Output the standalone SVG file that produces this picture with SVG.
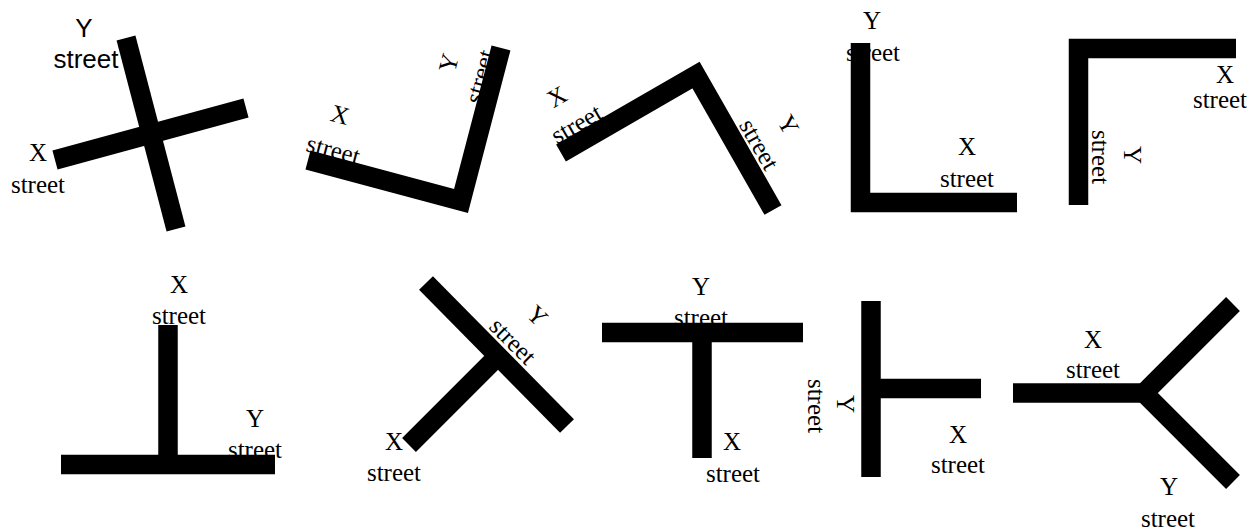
<svg xmlns="http://www.w3.org/2000/svg" width="1250" height="530" viewBox="0 0 1250 530">
<style>
.t{font-family:"Liberation Serif","Times New Roman",serif;font-size:25px;fill:#000;text-anchor:middle}
.a{font-family:"Liberation Sans",Arial,sans-serif;font-size:26px;fill:#000;text-anchor:middle}
.road{fill:none;stroke:#000;stroke-width:19.5;stroke-linecap:butt;stroke-linejoin:miter;stroke-miterlimit:10}
</style>
<rect width="1250" height="530" fill="#fff"/>
<g id="labels">
<text class="a" x="84" y="37">Y</text>
<text class="a" x="86" y="68">street</text>
<text class="t" x="38" y="161">X</text>
<text class="t" x="38" y="193">street</text>
<text class="t" transform="translate(340,115) rotate(15)" y="8">X</text>
<text class="t" transform="translate(333,151) rotate(15)" y="7">street</text>
<text class="t" transform="translate(449,63) rotate(-75)" y="8">Y</text>
<text class="t" transform="translate(481,77) rotate(-75)" y="7">street</text>
<text class="t" transform="translate(557,97) rotate(-30)" y="8">X</text>
<text class="t" transform="translate(577,125) rotate(-30)" y="7">street</text>
<text class="t" transform="translate(788,125) rotate(60)" y="8">Y</text>
<text class="t" transform="translate(758,145) rotate(60)" y="7">street</text>
<text class="t" x="872" y="29">Y</text>
<text class="t" x="873" y="61">street</text>
<text class="t" x="967" y="155">X</text>
<text class="t" x="967" y="187">street</text>
<text class="t" x="1225" y="83">X</text>
<text class="t" x="1220" y="108">street</text>
<text class="t" transform="translate(1132,155) rotate(90)" y="8">Y</text>
<text class="t" transform="translate(1099,157) rotate(90)" y="7">street</text>
<text class="t" x="179" y="293">X</text>
<text class="t" x="179" y="324">street</text>
<text class="t" x="255" y="427">Y</text>
<text class="t" x="255" y="458">street</text>
<text class="t" transform="translate(537,316) rotate(45)" y="8">Y</text>
<text class="t" transform="translate(512,342) rotate(45)" y="7">street</text>
<text class="t" x="394" y="450">X</text>
<text class="t" x="394" y="481">street</text>
<text class="t" x="701" y="295">Y</text>
<text class="t" x="701" y="326">street</text>
<text class="t" x="732" y="450">X</text>
<text class="t" x="733" y="482">street</text>
<text class="t" transform="translate(845,404) rotate(90)" y="8">Y</text>
<text class="t" transform="translate(815,406) rotate(90)" y="7">street</text>
<text class="t" x="958" y="443">X</text>
<text class="t" x="958" y="473">street</text>
<text class="t" x="1093" y="348">X</text>
<text class="t" x="1093" y="378">street</text>
<text class="t" x="1169" y="495">Y</text>
<text class="t" x="1168" y="527">street</text>
</g>
<g id="connectors">
<g id="cross"><path class="road" d="M126,38 L176,229"/><path class="road" d="M55,160 L246,108"/></g>
<g id="corner-tilted"><path class="road" d="M308,160 L461,201 L501,48"/></g>
<g id="corner-peak"><path class="road" d="M561,153 L696,75 L773,210"/></g>
<g id="corner-L"><path class="road" d="M860.5,43 V202.5 H1017"/></g>
<g id="corner-gamma"><path class="road" d="M1078.5,205 V48.5 H1236"/></g>
<g id="tee-up"><path class="road" d="M61,464.5 H275"/><path class="road" d="M168,325 V464.5"/></g>
<g id="tee-diagonal"><path class="road" d="M426,283 L567,426"/><path class="road" d="M409,445 L498,356"/></g>
<g id="tee-down"><path class="road" d="M602,332.5 H803"/><path class="road" d="M702,332.5 V458"/></g>
<g id="tee-right"><path class="road" d="M871,301 V477"/><path class="road" d="M871,388.5 H981"/></g>
<g id="fork"><path class="road" d="M1013,393 H1144"/><path class="road" d="M1233,304 L1144,393 L1233,482"/></g>
</g>
</svg>
